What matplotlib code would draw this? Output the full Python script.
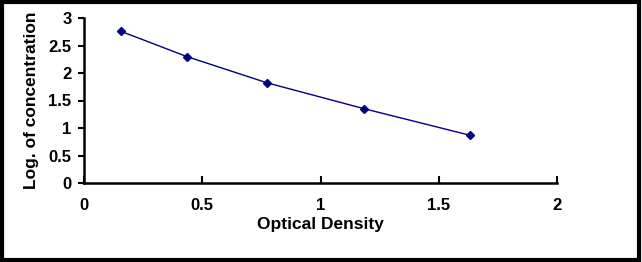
import matplotlib
matplotlib.use("Agg")
import matplotlib.pyplot as plt
from matplotlib.patches import Rectangle

# standard curve data
od = [0.155, 0.434, 0.775, 1.185, 1.633]
log_conc = [2.76, 2.30, 1.82, 1.35, 0.867]

x_ticks = [0, 0.5, 1, 1.5, 2]
x_labels = ["0", "0.5", "1", "1.5", "2"]
y_ticks = [0, 0.5, 1, 1.5, 2, 2.5, 3]
y_labels = ["0", "0.5", "1", "1.5", "2", "2.5", "3"]

plt.rcParams['font.family'] = ['Liberation Sans', 'DejaVu Sans']
plt.rcParams['font.weight'] = 'bold'

fig = plt.figure(figsize=(6.42, 2.62), dpi=100)
ax = fig.add_axes([84 / 642, 1 - 183 / 262, (557 - 84) / 642, (183 - 18) / 262])

ax.plot(od, log_conc, color="#000080", linewidth=1.0, marker="D",
        markersize=4.5, markerfacecolor="#000080", markeredgecolor="#000080")

ax.set_xlim(0, 2)
ax.set_ylim(0, 3)
ax.set_xticks(x_ticks)
ax.set_xticklabels(x_labels)
ax.set_yticks(y_ticks)
ax.set_yticklabels(y_labels)

for s in ["top", "right"]:
    ax.spines[s].set_visible(False)
for s in ["left", "bottom"]:
    ax.spines[s].set_linewidth(1.8)

ax.tick_params(axis="x", direction="in", length=5, width=1.5, labelsize=12, pad=11)
ax.tick_params(axis="y", direction="out", length=4, width=1.5, labelsize=12, pad=5)

ax.set_xlabel("Optical Density", fontsize=12.5, fontweight="bold", labelpad=3)
ax.set_ylabel("Log. of concentration", fontsize=12.5, fontweight="bold", labelpad=7)

# outer frame
fig.patches.append(Rectangle((0.003, 0.006), 0.993, 0.988, transform=fig.transFigure,
                             fill=False, edgecolor="black", linewidth=3))

fig.savefig("out.png", dpi=100)
